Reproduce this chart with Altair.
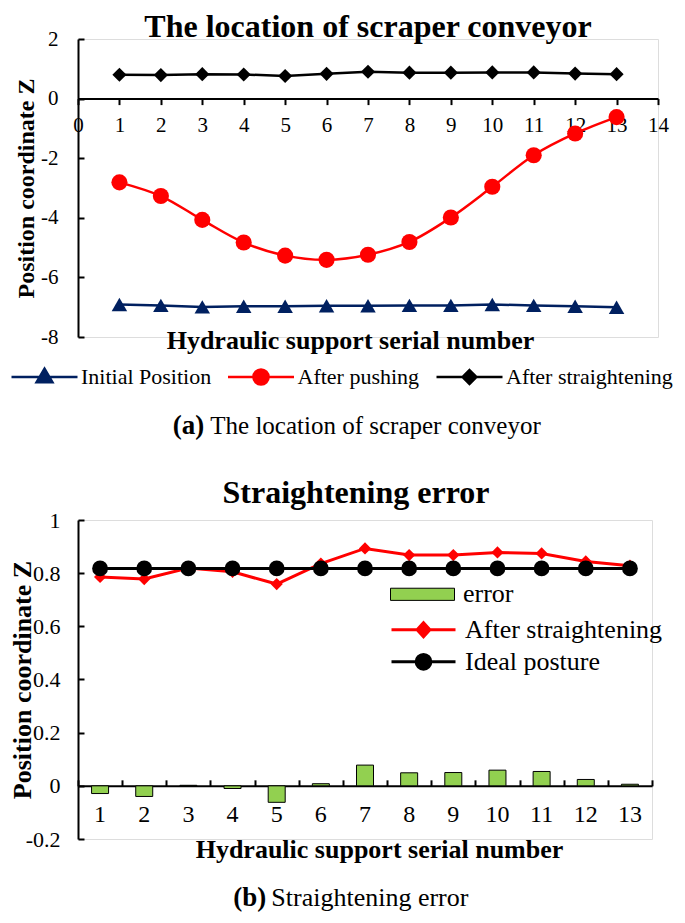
import altair as alt
import pandas as pd

FONT = "Liberation Serif"
NAVY = "#002060"
RED = "#FF0000"
GREEN = "#92D050"

# ---------------- data: panel (a) ----------------
serial_top = [1, 2, 3, 4, 5, 6, 7, 8, 9, 10, 11, 12, 13]
initial_z = [-6.91, -6.94, -6.99, -6.97, -6.97, -6.95, -6.95, -6.94, -6.94, -6.91, -6.94, -6.97, -7.00]
pushing_z = [-2.81, -3.27, -4.07, -4.83, -5.27, -5.41, -5.24, -4.81, -3.99, -2.96, -1.90, -1.17, -0.62]
straight_top_z = [0.80, 0.79, 0.82, 0.81, 0.76, 0.83, 0.90, 0.87, 0.87, 0.88, 0.88, 0.84, 0.82]
x_ticks_top = [0, 1, 2, 3, 4, 5, 6, 7, 8, 9, 10, 11, 12, 13, 14]
y_ticks_top = [-8, -6, -4, -2, 0, 2]

# ---------------- data: panel (b) ----------------
serial_labels = ["1", "2", "3", "4", "5", "6", "7", "8", "9", "10", "11", "12", "13"]
error_z = [-0.029, -0.040, 0.002, -0.010, -0.062, 0.008, 0.078, 0.049, 0.050, 0.059, 0.054, 0.024, 0.006]
straight_z = [0.786, 0.778, 0.819, 0.805, 0.759, 0.836, 0.893, 0.868, 0.868, 0.878, 0.874, 0.844, 0.828]
ideal_z = [0.818, 0.818, 0.818, 0.818, 0.818, 0.818, 0.818, 0.818, 0.818, 0.818, 0.818, 0.818, 0.818]
y_ticks_bottom = [-0.2, 0, 0.2, 0.4, 0.6, 0.8, 1]

df_top = pd.DataFrame({"serial": serial_top, "initial": initial_z,
                       "pushing": pushing_z, "straight": straight_top_z})
df_bot = pd.DataFrame({"serial": serial_labels, "error": error_z,
                       "straight": straight_z, "ideal": ideal_z})
one_row = pd.DataFrame({"k": [0]})

NUM_EXPR = "datum.value < 0 ? '-' + format(-datum.value, '~g') : format(datum.value, '~g')"


def legend_layer(name, path, fill, stroke, sw, size, lx, ly, fs, loff):
    return (
        alt.Chart(pd.DataFrame({"series": [name]}))
        .transform_filter("false")
        .mark_point(filled=True, fill=fill, stroke=stroke, strokeWidth=sw, opacity=1)
        .encode(
            shape=alt.Shape(
                "series:N",
                scale=alt.Scale(domain=[name], range=[path]),
                legend=alt.Legend(
                    orient="none", legendX=lx, legendY=ly, title=None, padding=0,
                    symbolSize=size, symbolStrokeWidth=sw, symbolOpacity=1,
                    labelFont=FONT, labelFontSize=fs, labelColor="black", labelOffset=loff,
                    labelLimit=500,
                ),
            )
        )
    )


def caption(text, weight, size, align, x, y):
    return alt.Chart(one_row).mark_text(
        text=text, font=FONT, fontSize=size, fontWeight=weight, align=align,
        baseline="alphabetic", color="black"
    ).encode(x=alt.value(x), y=alt.value(y))


# ================= panel (a) =================
W1, H1 = 580, 298
zero1 = H1 * 2 / 10

xs1 = alt.Scale(domain=[0, 14], nice=False, zero=False)
ys1 = alt.Scale(domain=[-8, 2], nice=False, zero=False)

x_axis_main1 = alt.Axis(
    orient="bottom", offset=-(H1 - zero1), values=x_ticks_top, grid=False,
    domainColor="black", domainWidth=2, ticks=True, tickSize=6, tickWidth=2, tickColor="black",
    labelFont=FONT, labelFontSize=21, labelColor="black", labelPadding=10, labelFlush=False,
    labelOverlap=False,
    title="Hydraulic support serial number", titleFont=FONT, titleFontSize=26,
    titleFontWeight="bold", titleColor="black", titleX=272, titleY=242,
    titleBaseline="middle", titleAlign="center",
)
x_axis_blank1 = alt.Axis(
    orient="top", grid=False, domain=False, labels=False, ticks=False, title=None,
)
y_axis_main1 = alt.Axis(
    orient="left", values=y_ticks_top, grid=False, domainColor="black", domainWidth=2,
    ticks=False, labelFont=FONT, labelFontSize=21, labelColor="black", labelPadding=20,
    labelExpr=NUM_EXPR,
    title="Position coordinate Z", titleFont=FONT, titleFontSize=24, titleFontWeight="bold",
    titleColor="black", titleX=-44.7, titleY=H1 / 2, titleBaseline="alphabetic",
    titleAngle=270, titleAlign="center",
)
y_axis_ticks1 = alt.Axis(
    orient="right", offset=-W1, values=y_ticks_top, grid=False, domain=False, labels=False,
    ticks=True, tickSize=6, tickWidth=2, tickColor="black", title=None,
)

base1 = alt.Chart(df_top)
line_init = base1.mark_line(color=NAVY, strokeWidth=2.5).encode(
    x=alt.X("serial:Q", scale=xs1, axis=x_axis_main1),
    y=alt.Y("initial:Q", scale=ys1, axis=y_axis_main1))
pts_init = base1.mark_point(shape="triangle-up", filled=True, color=NAVY, size=240, opacity=1).encode(
    x=alt.X("serial:Q", scale=xs1, axis=None),
    y=alt.Y("initial:Q", scale=ys1, axis=None))
line_push = base1.mark_line(color=RED, strokeWidth=2.5, interpolate="catmull-rom").encode(
    x=alt.X("serial:Q", scale=xs1, axis=x_axis_blank1),
    y=alt.Y("pushing:Q", scale=ys1, axis=y_axis_ticks1))
pts_push = base1.mark_point(shape="circle", filled=True, color=RED, size=260, opacity=1).encode(
    x=alt.X("serial:Q", scale=xs1, axis=None),
    y=alt.Y("pushing:Q", scale=ys1, axis=None))
line_str = base1.mark_line(color="black", strokeWidth=2.5).encode(
    x=alt.X("serial:Q", scale=xs1, axis=None),
    y=alt.Y("straight:Q", scale=ys1, axis=None))
pts_str = base1.mark_point(shape="diamond", filled=True, color="black", size=200, opacity=1).encode(
    x=alt.X("serial:Q", scale=xs1, axis=None),
    y=alt.Y("straight:Q", scale=ys1, axis=None))

tri_path = "M-1,0H1M0,-0.25L0.24,0.16L-0.24,0.16Z"
circ_path = "M-1,0H1M0.23,0A0.23,0.23,0,1,1,-0.23,0A0.23,0.23,0,1,1,0.23,0Z"
diam_path = "M-1,0H1M0,-0.21L0.21,0L0,0.21L-0.21,0Z"

leg1 = legend_layer("Initial Position", tri_path, NAVY, NAVY, 2.5, 4356, -68, 303.5, 22, 2)
leg2 = legend_layer("After pushing", circ_path, RED, RED, 2.5, 4356, 148.5, 303.5, 22, 2)
leg3 = legend_layer("After straightening", diam_path, "black", "black", 2.5, 4356, 357, 303.5, 22, 2)

cap_a1 = caption("(a)", "bold", 27, "right", 126.3, 395)
cap_a2 = caption("The location of scraper conveyor", "normal", 25, "left", 132.3, 395)

top = alt.layer(
    line_init, line_push, line_str, pts_init, pts_push, pts_str,
    leg1, leg2, leg3, cap_a1, cap_a2
).resolve_scale(shape="independent").properties(
    width=W1, height=H1,
    title=alt.TitleParams(
        "The location of scraper conveyor", font=FONT, fontSize=32, fontWeight="bold",
        color="black", anchor="middle", frame="group", baseline="alphabetic", offset=-41,
    ),
)

# ================= panel (b) =================
W2, H2 = 574, 319
zero2 = H2 * 1.0 / 1.2

xs2 = alt.Scale(type="band", domain=serial_labels, paddingInner=0, paddingOuter=0)
ys2 = alt.Scale(domain=[-0.2, 1], nice=False, zero=False)

x_axis_main2 = alt.Axis(
    orient="bottom", offset=-(H2 - zero2), grid=False, domainColor="black", domainWidth=2,
    ticks=False, labelAngle=0, labelFont=FONT, labelFontSize=24, labelColor="black",
    labelPadding=17,
    title="Hydraulic support serial number", titleFont=FONT, titleFontSize=26,
    titleFontWeight="bold", titleColor="black", titleX=301, titleY=64,
    titleBaseline="middle", titleAlign="center",
)
x_axis_ticks2 = alt.Axis(
    orient="top", offset=-zero2, grid=False, domain=False, labels=False, ticks=True,
    tickBand="extent", tickSize=6, tickWidth=2, tickColor="black", title=None,
)
y_axis_main2 = alt.Axis(
    orient="left", values=y_ticks_bottom, grid=False, domainColor="black", domainWidth=2,
    ticks=False, labelFont=FONT, labelFontSize=22, labelColor="black", labelPadding=18,
    labelExpr=NUM_EXPR,
    title="Position coordinate Z", titleFont=FONT, titleFontSize=26, titleFontWeight="bold",
    titleColor="black", titleX=-47.7, titleY=H2 / 2, titleBaseline="alphabetic",
    titleAngle=270, titleAlign="center",
)
y_axis_ticks2 = alt.Axis(
    orient="right", offset=-W2, values=y_ticks_bottom, grid=False, domain=False, labels=False,
    ticks=True, tickSize=6, tickWidth=2, tickColor="black", title=None,
)

base2 = alt.Chart(df_bot)
bars = base2.mark_bar(size=17, fill=GREEN, stroke="black", strokeWidth=1).encode(
    x=alt.X("serial:O", scale=xs2, axis=x_axis_main2),
    y=alt.Y("error:Q", scale=ys2, axis=y_axis_main2))
line_red = base2.mark_line(color=RED, strokeWidth=3).encode(
    x=alt.X("serial:O", scale=xs2, axis=None),
    y=alt.Y("straight:Q", scale=ys2, axis=None))
pts_red = base2.mark_point(shape="diamond", filled=True, color=RED, size=150, opacity=1).encode(
    x=alt.X("serial:O", scale=xs2, axis=None),
    y=alt.Y("straight:Q", scale=ys2, axis=None))
line_ideal = base2.mark_line(color="black", strokeWidth=3).encode(
    x=alt.X("serial:O", scale=xs2, axis=x_axis_ticks2),
    y=alt.Y("ideal:Q", scale=ys2, axis=y_axis_ticks2))
pts_ideal = base2.mark_point(shape="circle", filled=True, color="black", size=250, opacity=1).encode(
    x=alt.X("serial:O", scale=xs2, axis=None),
    y=alt.Y("ideal:Q", scale=ys2, axis=None))

rect_path = "M-1,-0.19H1V0.19H-1Z"
diam_path2 = "M-1,0H1M0,-0.22L0.2,0L0,0.22L-0.2,0Z"
circ_path2 = "M-1,0H1M0.23,0A0.23,0.23,0,1,1,-0.23,0A0.23,0.23,0,1,1,0.23,0Z"

legb1 = legend_layer("error", rect_path, GREEN, "black", 1, 4096, 312, 41.8, 26, 8)
legb2 = legend_layer("After straightening", diam_path2, RED, RED, 3, 4096, 312, 76.3, 26, 8)
legb3 = legend_layer("Ideal posture", circ_path2, "black", "black", 3, 4096, 312, 108.3, 26, 8)

cap_b1 = caption("(b)", "bold", 27, "right", 188.3, 386)
cap_b2 = caption("Straightening error", "normal", 26, "left", 193.3, 386)

bottom = alt.layer(
    bars, line_red, pts_red, line_ideal, pts_ideal,
    legb1, legb2, legb3, cap_b1, cap_b2
).resolve_scale(shape="independent").properties(
    width=W2, height=H2,
    title=alt.TitleParams(
        "Straightening error", font=FONT, fontSize=32, fontWeight="bold",
        color="black", anchor="middle", frame="group", baseline="alphabetic", offset=-26, dx=-9,
    ),
)

chart = alt.vconcat(top, bottom, spacing=36).properties(
    padding={"left": 0, "top": 2, "right": 0, "bottom": 0}
).configure_view(stroke=None).configure(font=FONT, background="white")

chart.save("out.html", embed_options={"renderer": "svg", "actions": False})
